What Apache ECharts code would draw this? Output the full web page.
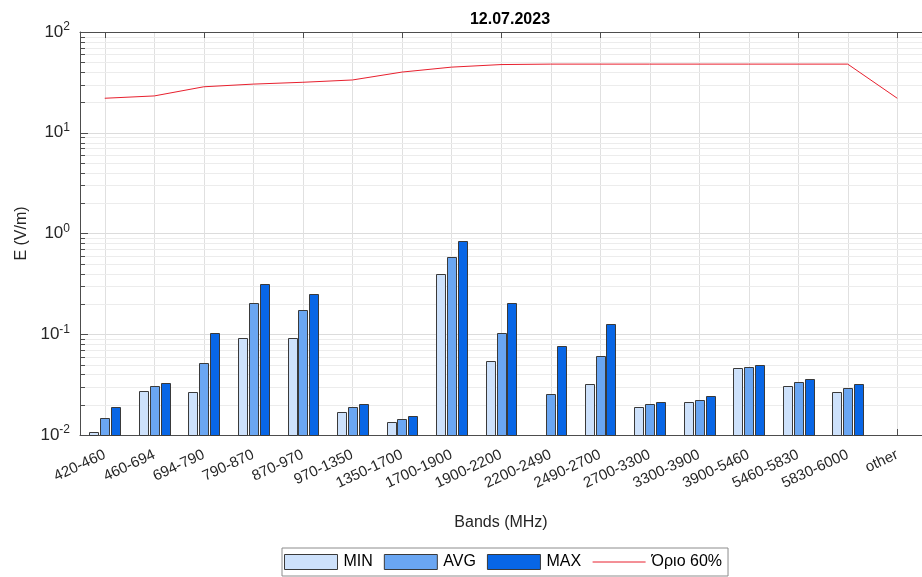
<!DOCTYPE html>
<html>
<head>
<meta charset="utf-8">
<script src="https://cdn.jsdelivr.net/npm/echarts@6/dist/echarts.min.js"></script>
<style>html,body{margin:0;padding:0;background:#fff}#c{width:922px;height:577px}</style>
</head>
<body>
<div id="c"></div>
<script>
var categories = ['420-460','460-694','694-790','790-870','870-970','970-1350','1350-1700','1700-1900','1900-2200','2200-2490','2490-2700','2700-3300','3300-3900','3900-5460','5460-5830','5830-6000','other'];
var minValues = [0.0108, 0.0272, 0.027, 0.092, 0.091, 0.0168, 0.0134, 0.397, 0.0545, null, 0.0318, 0.0188, 0.0215, 0.0458, 0.0308, 0.0265, null];
var avgValues = [0.0148, 0.0306, 0.052, 0.202, 0.173, 0.0189, 0.0145, 0.582, 0.103, 0.0255, 0.0607, 0.0201, 0.0225, 0.0472, 0.0335, 0.0292, null];
var maxValues = [0.0189, 0.0327, 0.1026, 0.312, 0.252, 0.0204, 0.0156, 0.839, 0.204, 0.0767, 0.125, 0.0212, 0.0243, 0.0493, 0.0359, 0.032, null];
var limitValues = [22, 23.2, 28.6, 30.4, 31.7, 33.4, 40, 44.8, 47.5, 48, 48, 48, 48, 48, 48, 48, 22];
var minorGridValues = [0.02,0.03,0.04,0.05,0.06,0.07,0.08,0.09,0.2,0.3,0.4,0.5,0.6,0.7,0.8,0.9,2,3,4,5,6,7,8,9,20,30,40,50,60,70,80,90];

var FONT = '"Liberation Sans", Arial, Helvetica, sans-serif';
var AXIS_COLOR = '#4d4d4d';
var BORDER = '#3a3a3a';
var COLORS = {MIN: '#cde1fb', AVG: '#6aa6f2', MAX: '#0866e6'};
var LIMIT_COLOR = '#e8202e';
var AXIS_MIN = 0.01;

var chart = echarts.init(document.getElementById('c'), null, {renderer: 'canvas'});

function barSeries(name, values, offset) {
  return {
    name: name,
    type: 'custom',
    z: 2,
    data: values.map(function (v, i) { return [i, v == null ? NaN : v]; }),
    encode: {x: 0, y: 1},
    renderItem: function (params, api) {
      var v = api.value(1);
      if (v == null || isNaN(v)) return null;
      var idx = api.value(0);
      var band = api.size([1, 1])[0];
      var top = api.coord([idx, v]);
      var base = api.coord([idx, AXIS_MIN]);
      var w = band * 0.18;
      var cx = top[0] + band * offset;
      return {
        type: 'rect',
        shape: {x: Math.round(cx - w / 2) + 0.5, y: Math.round(top[1]) + 0.5, width: Math.round(w), height: Math.round(base[1] - top[1])},
        style: {fill: COLORS[name], stroke: BORDER, lineWidth: 1}
      };
    }
  };
}

var option = {
  backgroundColor: '#ffffff',
  animation: false,
  textStyle: {fontFamily: FONT},
  title: {
    text: '12.07.2023',
    left: 505,
    top: 7,
    textAlign: 'center',
    textStyle: {fontFamily: FONT, fontSize: 16, fontWeight: 'bold', color: '#000'}
  },
  legend: {
    left: 282,
    top: 548,
    orient: 'horizontal',
    itemWidth: 53,
    itemHeight: 15,
    itemGap: 11,
    padding: [6, 6, 6, 2],
    borderColor: '#8c8c8c',
    borderWidth: 1,
    textStyle: {fontFamily: FONT, fontSize: 16, color: '#000', padding: [0, 0, 0, 1]},
    data: [
      {name: 'MIN', icon: 'rect', itemStyle: {color: COLORS.MIN, borderColor: BORDER, borderWidth: 1}},
      {name: 'AVG', icon: 'rect', itemStyle: {color: COLORS.AVG, borderColor: BORDER, borderWidth: 1}},
      {name: 'MAX', icon: 'rect', itemStyle: {color: COLORS.MAX, borderColor: BORDER, borderWidth: 1}},
      {name: 'Όριο 60%', itemStyle: {opacity: 0}, lineStyle: {color: LIMIT_COLOR, width: 1}}
    ]
  },
  grid: {left: 80, top: 32, width: 850, bottom: 142, containLabel: false},
  xAxis: [{
    type: 'category',
    data: categories,
    boundaryGap: true,
    name: 'Bands (MHz)',
    nameLocation: 'middle',
    nameGap: 80,
    nameTextStyle: {fontFamily: FONT, fontSize: 16, color: '#262626'},
    axisLine: {show: true, lineStyle: {color: AXIS_COLOR, width: 1}},
    axisTick: {show: true, inside: true, alignWithLabel: true, length: 6, lineStyle: {color: AXIS_COLOR}},
    axisLabel: {rotate: 25, fontFamily: FONT, fontSize: 15, color: '#262626', margin: 19, interval: 0},
    splitLine: {show: false}
  }, {
    type: 'category',
    data: categories,
    position: 'top',
    boundaryGap: true,
    axisLine: {show: true, lineStyle: {color: AXIS_COLOR, width: 1}},
    axisTick: {show: true, inside: true, alignWithLabel: true, length: 6, lineStyle: {color: AXIS_COLOR}},
    axisLabel: {show: false},
    splitLine: {show: false}
  }],
  yAxis: {
    type: 'log',
    logBase: 10,
    min: 0.01,
    max: 100,
    name: 'E (V/m)',
    nameLocation: 'middle',
    nameGap: 34,
    nameTextStyle: {fontFamily: FONT, fontSize: 16, color: '#262626'},
    axisLine: {show: true, lineStyle: {color: AXIS_COLOR, width: 1}},
    axisTick: {show: true, inside: true, length: 8, lineStyle: {color: AXIS_COLOR}},
    splitLine: {show: true, lineStyle: {color: '#dcdcdc', width: 1}},
    axisLabel: {
      margin: 10,
      formatter: function (v) {
        var e = Math.round(Math.log(v) / Math.LN10);
        return '{b|10}{s|' + e + '}';
      },
      rich: {
        b: {fontFamily: FONT, fontSize: 17, color: '#262626', lineHeight: 20},
        s: {fontFamily: FONT, fontSize: 12, color: '#262626', padding: [0, 0, 10, 0]}
      }
    }
  },
  series: [
    {
      name: 'vgrid',
      type: 'custom',
      z: 0,
      silent: true,
      data: categories.map(function (c, i) { return [i, 1]; }),
      encode: {x: 0, y: 1},
      renderItem: function (params, api) {
        var cs = params.coordSys;
        var x = Math.round(api.coord([api.value(0), 1])[0]) + 0.5;
        return {type: 'line', shape: {x1: x, y1: cs.y, x2: x, y2: cs.y + cs.height}, style: {stroke: '#e0e0e0', lineWidth: 1}};
      }
    },
    {
      name: 'hgrid',
      type: 'custom',
      z: 0,
      silent: true,
      data: minorGridValues.map(function (v) { return [0, v]; }),
      encode: {x: 0, y: 1},
      renderItem: function (params, api) {
        var cs = params.coordSys;
        var y = Math.round(api.coord([0, api.value(1)])[1]) + 0.5;
        return {
          type: 'group',
          children: [
            {type: 'line', shape: {x1: cs.x, y1: y, x2: cs.x + cs.width, y2: y}, style: {stroke: '#ececec', lineWidth: 1}},
            {type: 'line', shape: {x1: cs.x, y1: y, x2: cs.x + 5, y2: y}, style: {stroke: AXIS_COLOR, lineWidth: 1}}
          ]
        };
      }
    },
    barSeries('MIN', minValues, -0.22),
    barSeries('AVG', avgValues, 0),
    barSeries('MAX', maxValues, 0.22),
    {
      name: 'Όριο 60%',
      type: 'line',
      z: 5,
      data: limitValues,
      symbol: 'none',
      showSymbol: false,
      lineStyle: {color: LIMIT_COLOR, width: 1},
      itemStyle: {color: LIMIT_COLOR}
    }
  ]
};
chart.setOption(option);
</script>
</body>
</html>
